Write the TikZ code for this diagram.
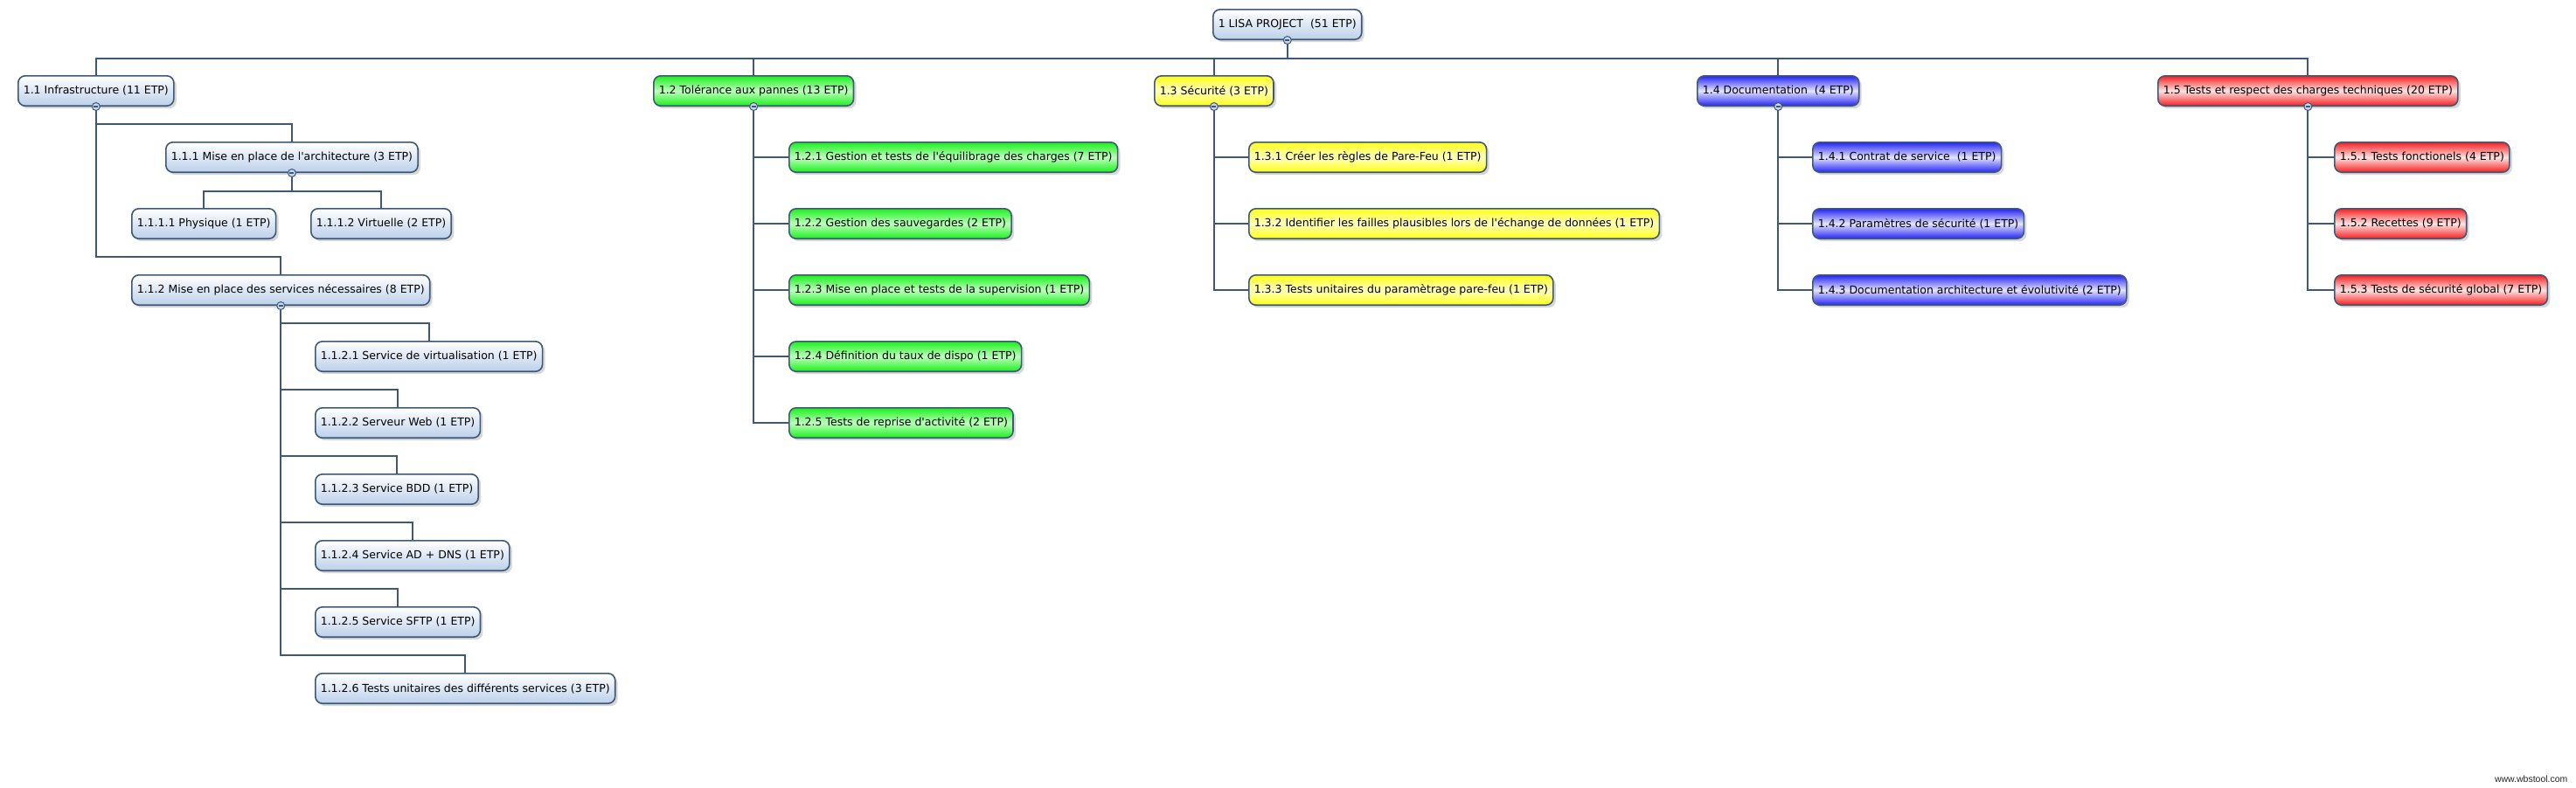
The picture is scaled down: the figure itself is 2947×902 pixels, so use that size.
\documentclass[tikz,border=0pt]{standalone}
\usepackage{fontspec}
\setmainfont{DejaVu Sans}
\newfontfamily\wmfont{Liberation Sans}
\usepackage{tikz}
\usetikzlibrary{positioning, shadows}
\definecolor{wbsline}{RGB}{62,88,120}
\definecolor{wbspale}{RGB}{188,208,234}
\definecolor{wbsgreen}{RGB}{25,240,25}
\definecolor{wbsgreenlt}{RGB}{190,255,190}
\definecolor{wbsyellow}{RGB}{255,255,20}
\definecolor{wbsyellowlt}{RGB}{255,255,190}
\definecolor{wbsblue}{RGB}{35,35,245}
\definecolor{wbsred}{RGB}{245,30,30}
\definecolor{foldfill}{RGB}{200,214,234}
\tikzset{
    task/.style={draw=wbsline, line width=1.6pt, rounded corners=8pt,    % one WBS box
        minimum height=34.4pt, inner xsep=6pt, inner ysep=0pt, anchor=north west,
        font=\fontsize{12.5pt}{15pt}\selectfont, text=black,
        top color=white, bottom color=wbspale,
        drop shadow={shadow xshift=3pt, shadow yshift=-3pt, opacity=0.3}},
    tolerance/.style={top color=wbsgreen, bottom color=wbsgreen, middle color=wbsgreenlt},
    securite/.style={top color=wbsyellow, bottom color=wbsyellow, middle color=wbsyellowlt},
    docu/.style={top color=wbsblue, bottom color=wbsblue, middle color=wbsblue!12!white},
    tests/.style={top color=wbsred, bottom color=wbsred, middle color=wbsred!12!white},
    under/.style={below=40pt of #1.south west, anchor=north west},   % next box of a list
    link/.style={draw=wbsline, line width=2pt},
    fold/.style={circle, draw=wbsline, line width=1pt, fill=foldfill, % the small (-) button
        minimum size=9pt, inner sep=0pt,
        path picture={\draw[wbsline, line width=1.3pt]
            ([xshift=-2.5pt]path picture bounding box.center) --
            ([xshift=2.5pt]path picture bounding box.center);}},
}

\begin{document}
\begin{tikzpicture}[x=1pt, y=-1pt]

\path[fill=white] (0,0) rectangle (2947,902);
\useasboundingbox (0,0) rectangle (2947,902);

\node[task] (root) at (1387,10) {1 LISA PROJECT\ \ (51 ETP)};

% first level
\node[task] (n11) at (20,86) {1.1 Infrastructure (11 ETP)};
\node[task, tolerance] (n12) at (747,86) {1.2 Tolérance aux pannes (13 ETP)};
\node[task, securite] (n13) at (1320,86) {1.3 Sécurité (3 ETP)};
\node[task, docu] (n14) at (1941,86) {1.4 Documentation\ \ (4 ETP)};
\node[task, tests] (n15) at (2468,86) {1.5 Tests et respect des charges techniques (20 ETP)};

% 1.1
\node[task] (n111) at (189,162) {1.1.1 Mise en place de l\textquotesingle architecture (3 ETP)};
\node[task] (n1111) at (150,238) {1.1.1.1 Physique (1 ETP)};
\node[task] (n1112) at (355,238) {1.1.1.2 Virtuelle (2 ETP)};
\node[task] (n112) at (150,314) {1.1.2 Mise en place des services nécessaires (8 ETP)};
\node[task] (n1121) at (360,390) {1.1.2.1 Service de virtualisation (1 ETP)};
\node[task, under=n1121] (n1122) {1.1.2.2 Serveur Web (1 ETP)};
\node[task, under=n1122] (n1123) {1.1.2.3 Service BDD (1 ETP)};
\node[task, under=n1123] (n1124) {1.1.2.4 Service AD + DNS (1 ETP)};
\node[task, under=n1124] (n1125) {1.1.2.5 Service SFTP (1 ETP)};
\node[task, under=n1125] (n1126) {1.1.2.6 Tests unitaires des différents services (3 ETP)};

% 1.2
\node[task, tolerance] (n121) at (902,162) {1.2.1 Gestion et tests de l\textquotesingle équilibrage des charges (7 ETP)};
\node[task, tolerance, under=n121] (n122) {1.2.2 Gestion des sauvegardes (2 ETP)};
\node[task, tolerance, under=n122] (n123) {1.2.3 Mise en place et tests de la supervision (1 ETP)};
\node[task, tolerance, under=n123] (n124) {1.2.4 Définition du taux de dispo (1 ETP)};
\node[task, tolerance, under=n124] (n125) {1.2.5 Tests de reprise d\textquotesingle activité (2 ETP)};

% 1.3
\node[task, securite] (n131) at (1428,162) {1.3.1 Créer les règles de Pare-Feu (1 ETP)};
\node[task, securite, under=n131] (n132) {1.3.2 Identifier les failles plausibles lors de l\textquotesingle échange de données (1 ETP)};
\node[task, securite, under=n132] (n133) {1.3.3 Tests unitaires du paramètrage pare-feu (1 ETP)};

% 1.4
\node[task, docu] (n141) at (2073,162) {1.4.1 Contrat de service\ \ (1 ETP)};
\node[task, docu, under=n141] (n142) {1.4.2 Paramètres de sécurité (1 ETP)};
\node[task, docu, under=n142] (n143) {1.4.3 Documentation architecture et évolutivité (2 ETP)};

% 1.5
\node[task, tests] (n151) at (2670,162) {1.5.1 Tests fonctionels (4 ETP)};
\node[task, tests, under=n151] (n152) {1.5.2 Recettes (9 ETP)};
\node[task, tests, under=n152] (n153) {1.5.3 Tests de sécurité global (7 ETP)};

% links
\foreach \i in {1,...,5}
    \draw[link] (root.south) -- ++(0,21) -| (n1\i.north);
\draw[link] (n11.south) |- ([yshift=20pt]n111.north) -| (n111.north);
\draw[link] (n11.south) |- ([yshift=20pt]n112.north) -| (n112.north);
\draw[link] (n111.south) -- ++(0,21) -| (n1111.north);
\draw[link] (n111.south) -- ++(0,21) -| (n1112.north);
\foreach \i in {1,...,6}
    \draw[link] (n112.south) |- ([yshift=20pt]n112\i.north) -| (n112\i.north);
\foreach \i in {1,...,5}
    \draw[link] (n12.south) |- (n12\i.west);
\foreach \i in {1,2,3} {
    \draw[link] (n13.south) |- (n13\i.west);
    \draw[link] (n14.south) |- (n14\i.west);
    \draw[link] (n15.south) |- (n15\i.west);
}

% fold buttons
\node[fold] (f1) at (root.south) {};
\node[fold] (f11) at (n11.south) {};
\node[fold] (f111) at (n111.south) {};
\node[fold] (f112) at (n112.south) {};
\node[fold] (f12) at (n12.south) {};
\node[fold] (f13) at (n13.south) {};
\node[fold] (f14) at (n14.south) {};
\node[fold] (f15) at (n15.south) {};

\node[anchor=east, font=\wmfont\fontsize{10.5pt}{12pt}\selectfont, text=black!85] (wm) at (2941,892) {www.wbstool.com};

\end{tikzpicture}
\end{document}
